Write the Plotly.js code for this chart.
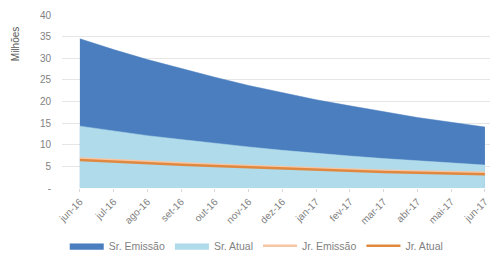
<!DOCTYPE html>
<html><head><meta charset="utf-8">
<script src="https://cdn.plot.ly/plotly-3.0.1.min.js"></script>
<style>html,body{margin:0;padding:0;background:#fff}#c{width:493px;height:257px}</style>
</head><body><div id="c"></div>
<script>
const months = ["jun-16","jul-16","ago-16","set-16","out-16","nov-16","dez-16","jan-17","fev-17","mar-17","abr-17","mai-17","jun-17"];
const srEmissao = [34.5, 32.0, 29.7, 27.6, 25.6, 23.7, 22.0, 20.4, 19.0, 17.6, 16.3, 15.2, 14.1];
const srAtual   = [14.3, 13.2, 12.1, 11.2, 10.3, 9.5, 8.7, 8.0, 7.4, 6.8, 6.3, 5.8, 5.3];
const jrEmissao = [6.8, 6.4, 6.0, 5.7, 5.4, 5.1, 4.8, 4.5, 4.3, 4.0, 3.8, 3.6, 3.5];
const jrAtual   = [6.5, 6.1, 5.7, 5.4, 5.1, 4.8, 4.5, 4.2, 4.0, 3.7, 3.5, 3.3, 3.2];
const yTicks = [0,5,10,15,20,25,30,35,40];
const yTickText = ["-","5","10","15","20","25","30","35","40"];

const idx = months.map((m,i)=>i);
const traces = [
  {x: idx, y: srEmissao, name: "Sr. Emissão", type: "scatter", mode: "lines", fill: "tozeroy",
   line: {color: "#4a7ebf", width: 0.5}, fillcolor: "#4a7ebf"},
  {x: idx, y: srAtual, name: "Sr. Atual", type: "scatter", mode: "lines", fill: "tozeroy",
   line: {color: "#b0dbea", width: 0.5}, fillcolor: "#b0dbea"},
  {x: idx, y: jrEmissao, name: "Jr. Emissão", type: "scatter", mode: "lines",
   line: {color: "#f7c6a3", width: 2.5}},
  {x: idx, y: jrAtual, name: "Jr. Atual", type: "scatter", mode: "lines",
   line: {color: "#e0883f", width: 2.5}}
];
const layout = {
  width: 493, height: 257,
  margin: {l: 62, r: 3, t: 15, b: 69, autoexpand: false},
  paper_bgcolor: "#fff", plot_bgcolor: "#fff",
  font: {family: "Liberation Sans, Arial, sans-serif", size: 10, color: "#7f7f7f"},
  showlegend: true,
  legend: {orientation: "h", x: 0.455, xanchor: "center", y: -0.25, yanchor: "top",
           font: {size: 10.5, color: "#7f7f7f"}, traceorder: "normal", itemwidth: 34},
  xaxis: {range: [-0.53, 12.15], tickvals: idx, ticktext: months, tickangle: -45,
          showgrid: false, zeroline: false, showline: false, automargin: false,
          ticks: "outside", ticklen: 3, tickcolor: "#d9d9d9", tickfont: {size: 10, color: "#7f7f7f"}},
  yaxis: {range: [0, 40], tickvals: yTicks, ticktext: yTickText, automargin: false,
          showgrid: true, gridcolor: "#e6e6e6", gridwidth: 1, zeroline: false, showline: false,
          ticklabelstandoff: 10, tickfont: {size: 10, color: "#7f7f7f"}},
  annotations: [{text: "Milhões", xref: "paper", yref: "paper", x: -0.108, y: 0.83,
                 textangle: -90, showarrow: false, xanchor: "center", yanchor: "middle",
                 font: {size: 10, color: "#595959"}}]
};
Plotly.newPlot("c", traces, layout, {displayModeBar: false, staticPlot: true});
</script></body></html>
